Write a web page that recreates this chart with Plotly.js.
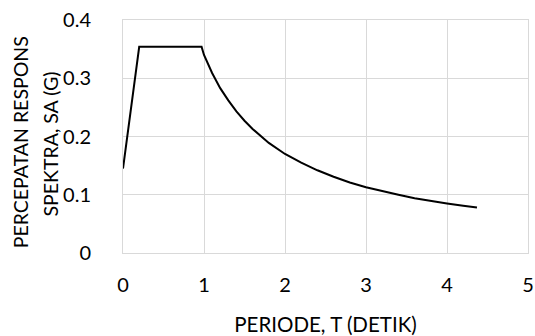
<!DOCTYPE html>
<html>
<head>
<meta charset="utf-8">
<script src="https://cdn.plot.ly/plotly-3.0.1.min.js"></script>
<style>html,body{margin:0;padding:0;background:#fff;}#chart{width:535px;height:336px;}</style>
</head>
<body>
<div id="chart"></div>
<script>
const periodT = [0, 0.2, 0.97, 1.0, 1.1, 1.2, 1.3, 1.4, 1.5, 1.6, 1.8, 2.0, 2.2, 2.4, 2.6, 2.8, 3.0, 3.2, 3.4, 3.6, 3.8, 4.0, 4.2, 4.37];
const sa = [0.145, 0.354, 0.354, 0.340, 0.309, 0.283, 0.262, 0.243, 0.227, 0.213, 0.189, 0.170, 0.155, 0.142, 0.131, 0.121, 0.113, 0.106, 0.100, 0.094, 0.089, 0.085, 0.081, 0.078];
const xTicks = [0, 1, 2, 3, 4, 5];
const yTicks = [0, 0.1, 0.2, 0.3, 0.4];
const yTickText = ['0', '0.1', '0.2', '0.3', '0.4'];
const xTitle = 'PERIODE, T (DETIK)';
const yTitleLines = ['PERCEPATAN RESPONS', 'SPEKTRA, SA (G)'];

const fam = 'Lato, Open Sans, sans-serif';
const grid = '#d9d9d9';
const tf = {family: fam, size: 20, color: '#000'};

Plotly.newPlot('chart', [{
  x: periodT, y: sa, type: 'scatter', mode: 'lines',
  line: {color: '#000', width: 2}, hoverinfo: 'skip'
}], {
  width: 535, height: 336,
  margin: {l: 123, r: 7, t: 20, b: 83},
  paper_bgcolor: '#fff', plot_bgcolor: '#fff',
  showlegend: false,
  font: tf,
  xaxis: {
    range: [0, 5], tickvals: xTicks, ticktext: xTicks.map(String),
    showgrid: true, gridcolor: grid, gridwidth: 1,
    showline: true, linecolor: grid, linewidth: 1, mirror: true,
    zeroline: false, ticks: '', ticklabelstandoff: 14,
    tickfont: tf,
    title: {text: xTitle, font: {family: fam, size: 20.5, color: '#000'}, standoff: 24}
  },
  yaxis: {
    range: [0, 0.4], tickvals: yTicks, ticktext: yTickText,
    showgrid: true, gridcolor: grid, gridwidth: 1,
    showline: true, linecolor: grid, linewidth: 1, mirror: true,
    zeroline: false, ticks: '', ticklabelstandoff: 27,
    tickfont: tf
  },
  annotations: [
    {text: yTitleLines[0], xref: 'paper', yref: 'paper', x: -0.254, y: 0.476, xanchor: 'center', yanchor: 'middle', textangle: -90, showarrow: false, font: {family: fam, size: 19.5, color: '#000'}},
    {text: yTitleLines[1], xref: 'paper', yref: 'paper', x: -0.180, y: 0.466, xanchor: 'center', yanchor: 'middle', textangle: -90, showarrow: false, font: {family: fam, size: 19.5, color: '#000'}}
  ]
}, {staticPlot: true, displayModeBar: false});
</script>
</body>
</html>
